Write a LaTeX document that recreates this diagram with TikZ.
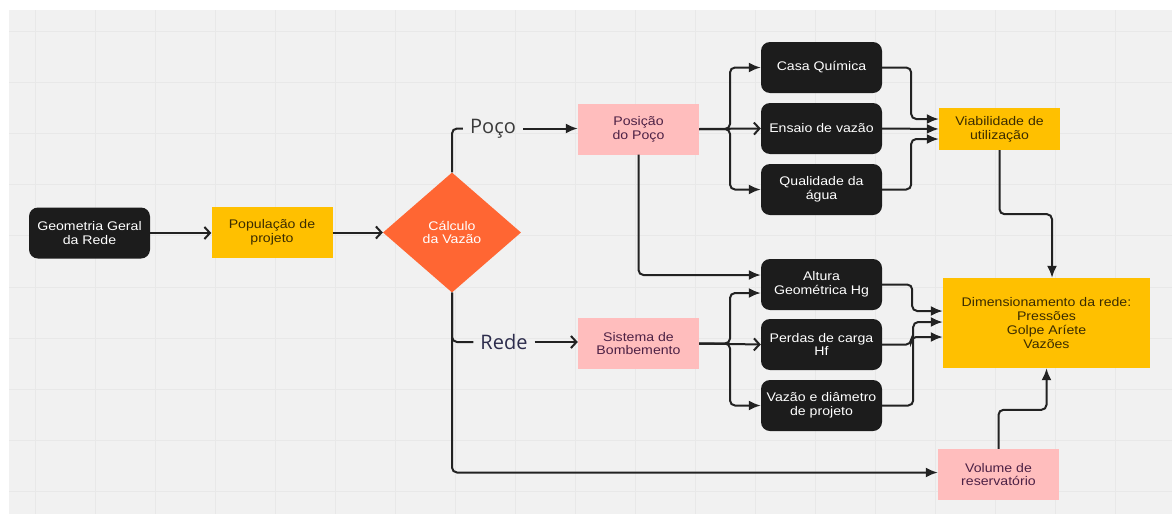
\documentclass[tikz,border=0pt]{standalone}
\usepackage{fontspec}
\setmainfont{Liberation Sans}[FakeStretch=1.13]
\newfontfamily\lblfont{Open Sans}
\usetikzlibrary{arrows.meta,shapes.geometric}
\definecolor{bg}{HTML}{F1F1F1}
\definecolor{gridc}{HTML}{E8E8E8}
\definecolor{blk}{HTML}{1C1C1C}
\definecolor{yel}{HTML}{FFC000}
\definecolor{yeltxt}{HTML}{3B2C00}
\definecolor{pnk}{HTML}{FFBDBD}
\definecolor{pnktxt}{HTML}{4D2145}
\definecolor{orng}{HTML}{FF6633}
\definecolor{linec}{HTML}{222222}
\definecolor{pococ}{HTML}{3A3A3A}
\definecolor{redec}{HTML}{2C2C4C}
\tikzset{
  box/.style={minimum width=121pt, minimum height=51pt, inner sep=0pt, align=center,
    font=\fontsize{12.5}{13.7}\selectfont},
  blkbox/.style={box, fill=blk, text=white, rounded corners=9pt},
  yelbox/.style={box, fill=yel, text=yeltxt},
  pnkbox/.style={box, fill=pnk, text=pnktxt},
  diabox/.style={diamond, fill=orng, text=white, minimum width=138pt, minimum height=120pt,
    inner sep=0pt, align=center, font=\fontsize{12.5}{13.7}\selectfont},
  lbl/.style={inner xsep=7pt, inner ysep=2pt, font=\lblfont\fontsize{20}{22}\selectfont},
  conn/.style={draw=linec, line width=2pt, rounded corners=5pt},
  fa/.style={conn, -{Latex[length=12pt,width=10pt]}},
  ch/.style={conn, -{Straight Barb[length=5.5pt,width=12pt]}},
}
\begin{document}
\begin{tikzpicture}[x=1pt,y=-1pt]
\useasboundingbox (0,0) rectangle (1176,517);
\fill[white] (0,0) rectangle (1176,517);
\fill[bg] (9,10) rectangle (1172,514);
\foreach \i in {0,...,18} \draw[gridc, line width=1pt] (35+60*\i,10) -- (35+60*\i,514);
\foreach \i in {0,...,9} \draw[gridc, line width=1pt] (9,31+51.2*\i) -- (1172,31+51.2*\i);

% nodes
\node[blkbox] (geo) at (89.5,233) {Geometria Geral\\da Rede};
\node[yelbox] (pop) at (272,232.5) {População de\\projeto};
\node[diabox] (calc) at (452,232.5) {Cálculo\\da Vazão};
\node[pnkbox] (pos) at (638.5,129) {Posição\\do Poço};
\node[pnkbox] (sis) at (638.5,343.5) {Sistema de\\Bombemento};
\node[blkbox] (casa) at (821.5,67.5) {Casa Química};
\node[blkbox] (ens) at (821.5,128.5) {Ensaio de vazão};
\node[blkbox] (qual) at (821.5,189.5) {Qualidade da\\água};
\node[yelbox, minimum height=42pt] (viab) at (999.5,129) {Viabilidade de\\utilização};
\node[blkbox] (alt) at (821.5,284.5) {Altura\\Geométrica Hg};
\node[blkbox] (perd) at (821.5,344.5) {Perdas de carga\\Hf};
\node[blkbox] (vaz) at (821.5,405.5) {Vazão e diâmetro\\de projeto};
\node[yelbox, minimum width=207pt, minimum height=90pt] (dim) at (1046.5,323) {Dimensionamento da rede:\\Pressões\\Golpe Aríete\\Vazões};
\node[pnkbox] (vol) at (998.5,474.5) {Volume de\\reservatório};
\node[lbl, text=pococ] (poco) at (493,128.5) {Poço};
\node[lbl, text=redec] (rede) at (504,342) {Rede};

\coordinate (b1) at (730,129);
\coordinate (b2) at (730,343.5);

% connectors
\draw[ch] (geo.east) -- (geo.east -| pop.west);
\draw[ch] (pop.east) -- (calc.west);
\draw[conn] (calc.north) |- (poco.west);
\draw[fa] (poco.east) -- (poco.east -| pos.west);
\draw[conn] (calc.south) |- (rede.west);
\draw[ch] (rede.east) -- (rede.east -| sis.west);
\draw[fa] (calc.south) |- ([yshift=2pt]vol.west);

\draw[fa] (pos.east) -- (b1) |- (casa.west);
\draw[ch] (pos.east) -- (ens.west);
\draw[fa] (pos.east) -- (b1) |- (qual.west);
\draw[fa] (pos.south) |- ([yshift=9.5pt]alt.west);

\draw[fa] (sis.east) -- (b2) |- ([yshift=-8.5pt]alt.west);
\draw[ch] (sis.east) -- (perd.west);
\draw[fa] (sis.east) -- (b2) |- (vaz.west);

\draw[fa] (casa.east) -- ++(29,0) |- ([yshift=10pt]viab.west);
\draw[fa] (ens.east) -- (viab.west);
\draw[fa] (qual.east) -- ++(29,0) |- ([yshift=-10pt]viab.west);

\draw[fa] (alt.east) -- ++(30,0) |- ([yshift=12pt]dim.west);
\draw[fa] (perd.east) -- ++(29,0) |- ([yshift=-14pt]dim.west);
\draw[fa] (vaz.east) -- ++(31,0) |- ([yshift=1pt]dim.west);

\draw[fa] (viab.south) -- ++(0,64) -| ([xshift=5.5pt]dim.north);
\draw[fa] (vol.north) -- ++(0,-39) -| (dim.south);
\end{tikzpicture}
\end{document}
